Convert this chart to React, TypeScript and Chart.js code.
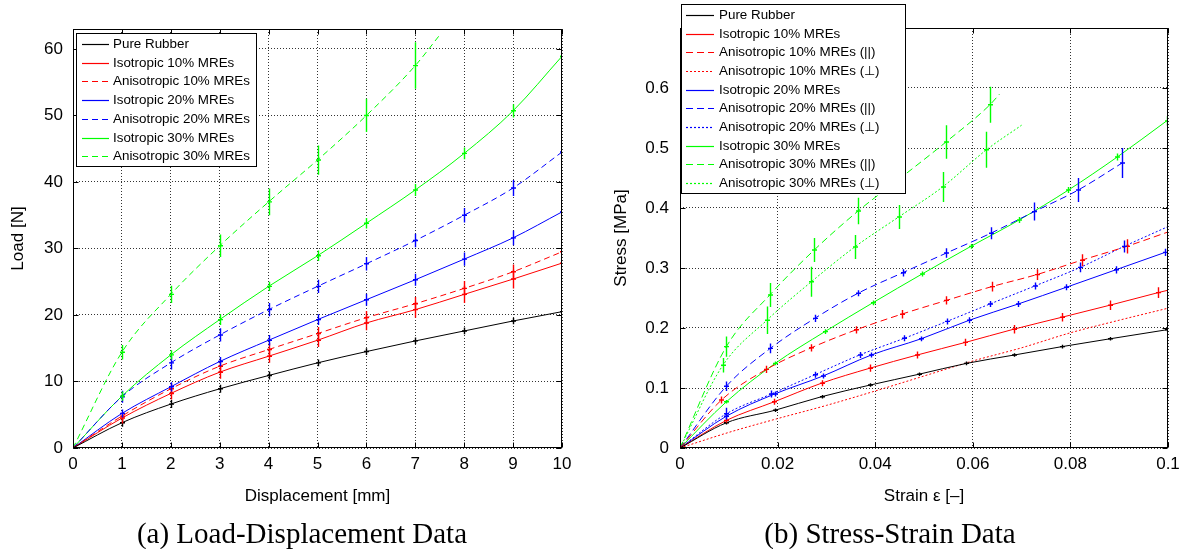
import React, { useEffect, useRef } from 'react';
import { Chart, registerables } from 'chart.js';

Chart.register(...registerables);

// ---------------- (a) Load-Displacement data ----------------
const dispX = [0, 1, 2, 3, 4, 5, 6, 7, 8, 9, 10];
const dispAniso30 = [0, 1, 2, 3, 4, 5, 6, 7, 7.5];

const loadPure = [0, 3.8, 6.6, 8.9, 10.9, 12.8, 14.5, 16.1, 17.6, 19.1, 20.5];
const errPure = [0, 0.6, 0.6, 0.6, 0.6, 0.5, 0.5, 0.5, 0.5, 0.5, 0.5];
const loadIso10 = [0, 4.5, 8.2, 11.4, 13.8, 16.2, 18.8, 20.8, 23.1, 25.4, 27.8];
const errIso10 = [0, 0.8, 0.9, 1.0, 1.0, 1.0, 1.1, 1.2, 1.3, 1.4, 1.5];
const loadAniso10 = [0, 4.8, 8.9, 12.3, 14.8, 17.2, 19.6, 21.7, 24.0, 26.5, 29.5];
const errAniso10 = [0, 0.6, 0.8, 0.9, 1.0, 1.0, 1.0, 1.0, 1.1, 1.1, 1.2];
const loadIso20 = [0, 5.2, 9.2, 13.0, 16.2, 19.3, 22.3, 25.3, 28.4, 31.6, 35.5];
const errIso20 = [0, 0.6, 0.7, 0.7, 0.8, 0.8, 0.9, 0.9, 1.0, 1.1, 1.2];
const loadAniso20 = [0, 7.7, 12.8, 17.0, 20.8, 24.3, 27.7, 31.2, 35.0, 39.1, 44.5];
const errAniso20 = [0, 0.9, 1.0, 1.0, 1.0, 1.0, 1.0, 1.0, 1.1, 1.2, 1.4];
const loadIso30 = [0, 7.8, 14.0, 19.3, 24.3, 28.9, 33.8, 38.8, 44.3, 50.7, 58.9];
const errIso30 = [0, 0.7, 0.7, 0.8, 0.7, 0.8, 0.8, 0.9, 0.9, 1.0, 1.2];
const loadAniso30 = [0, 14.4, 23.1, 30.4, 37.0, 43.3, 50.0, 57.5, 62.1];
const errAniso30 = [0, 1.1, 1.3, 1.7, 2.0, 2.2, 2.5, 3.5, 0];

const dispTicks = [0, 1, 2, 3, 4, 5, 6, 7, 8, 9, 10];
const loadTicks = [0, 10, 20, 30, 40, 50, 60];

// ---------------- (b) Stress-Strain data ----------------
const strainPure = [0, 0.0095, 0.0195, 0.029, 0.039, 0.049, 0.0587, 0.0685, 0.0783, 0.0881, 0.0997];
const stressPure = [0, 0.042, 0.063, 0.0855, 0.105, 0.123, 0.141, 0.155, 0.169, 0.182, 0.197];
const errSPure = [0, 0.003, 0.003, 0.003, 0.003, 0.003, 0.003, 0.003, 0.003, 0.003, 0.003];

const strainIso10 = [0, 0.0095, 0.0193, 0.029, 0.0389, 0.0486, 0.0585, 0.0684, 0.0783, 0.0881, 0.098, 0.1];
const stressIso10 = [0, 0.046, 0.077, 0.108, 0.133, 0.155, 0.176, 0.198, 0.218, 0.238, 0.259, 0.263];
const errSIso10 = [0, 0.004, 0.005, 0.005, 0.006, 0.006, 0.006, 0.007, 0.007, 0.008, 0.009, 0];

const strainAniso10P = [0, 0.0085, 0.0177, 0.0269, 0.0361, 0.0454, 0.0546, 0.0639, 0.0731, 0.0823, 0.0915, 0.1];
const stressAniso10P = [0, 0.08, 0.131, 0.167, 0.197, 0.223, 0.246, 0.269, 0.289, 0.313, 0.336, 0.36];
const errSAniso10P = [0, 0.006, 0.006, 0.006, 0.006, 0.007, 0.007, 0.008, 0.009, 0.01, 0.012, 0];

const strainAniso10N = [0, 0.01, 0.02, 0.03, 0.04, 0.05, 0.06, 0.07, 0.08, 0.09, 0.1];
const stressAniso10N = [0, 0.026, 0.049, 0.071, 0.095, 0.12, 0.145, 0.167, 0.192, 0.213, 0.233];

const strainIso20 = [0, 0.0095, 0.0194, 0.0293, 0.0392, 0.0494, 0.0593, 0.0693, 0.0792, 0.0893, 0.0994];
const stressIso20 = [0, 0.053, 0.09, 0.12, 0.155, 0.182, 0.213, 0.24, 0.268, 0.297, 0.326];
const errSIso20 = [0, 0.004, 0.004, 0.004, 0.004, 0.004, 0.005, 0.005, 0.005, 0.006, 0.006];

const strainAniso20P = [0, 0.0095, 0.0185, 0.0276, 0.0365, 0.0456, 0.0546, 0.0637, 0.0726, 0.0816, 0.0906];
const stressAniso20P = [0, 0.103, 0.166, 0.216, 0.258, 0.292, 0.325, 0.358, 0.394, 0.43, 0.475];
const errSAniso20P = [0, 0.008, 0.008, 0.006, 0.005, 0.006, 0.008, 0.01, 0.015, 0.02, 0.025];

const strainAniso20N = [0, 0.0095, 0.0187, 0.0276, 0.0368, 0.046, 0.0547, 0.0635, 0.0727, 0.082, 0.091, 0.1];
const stressAniso20N = [0, 0.057, 0.09, 0.122, 0.155, 0.183, 0.211, 0.24, 0.27, 0.301, 0.336, 0.369];
const errSAniso20N = [0, 0.01, 0.006, 0.005, 0.005, 0.005, 0.005, 0.005, 0.006, 0.008, 0.01, 0];

const strainIso30 = [0, 0.0095, 0.0195, 0.0297, 0.0395, 0.0496, 0.0596, 0.0695, 0.0796, 0.0896, 0.0997];
const stressIso30 = [0, 0.077, 0.141, 0.194, 0.242, 0.29, 0.336, 0.38, 0.43, 0.485, 0.545];
const errSIso30 = [0, 0.003, 0.003, 0.004, 0.004, 0.004, 0.004, 0.005, 0.005, 0.006, 0.008];

const strainAniso30P = [0, 0.0095, 0.0184, 0.0275, 0.0365, 0.0455, 0.0545, 0.0635, 0.0655];
const stressAniso30P = [0, 0.169, 0.255, 0.33, 0.395, 0.452, 0.51, 0.572, 0.59];
const errSAniso30P = [0, 0.017, 0.02, 0.02, 0.022, 0.025, 0.028, 0.03, 0];

const strainAniso30N = [0, 0.0088, 0.0178, 0.0269, 0.0358, 0.0448, 0.0538, 0.0628, 0.07];
const stressAniso30N = [0, 0.138, 0.213, 0.277, 0.335, 0.385, 0.435, 0.497, 0.538];
const errSAniso30N = [0, 0.012, 0.023, 0.025, 0.02, 0.02, 0.025, 0.03, 0];

const strainTicks = [0, 0.02, 0.04, 0.06, 0.08, 0.1];
const stressTicks = [0, 0.1, 0.2, 0.3, 0.4, 0.5, 0.6];

// ---------------- styling ----------------
const BLACK = '#000000';
const RED = '#ff0000';
const BLUE = '#0000ff';
const GREEN = '#00ff00';
const SANS = "'Liberation Sans', Arial, Helvetica, sans-serif";

type Series = { label: string; x: number[]; y: number[]; err?: number[]; color: string; dash: number[] };

const DASH_A = [6, 4];
const DASH_B = [7, 4];
const DOT = [2, 2];

const seriesA: Series[] = [
  { label: 'Pure Rubber', x: dispX, y: loadPure, err: errPure, color: BLACK, dash: [] },
  { label: 'Isotropic 10% MREs', x: dispX, y: loadIso10, err: errIso10, color: RED, dash: [] },
  { label: 'Anisotropic 10% MREs', x: dispX, y: loadAniso10, err: errAniso10, color: RED, dash: DASH_A },
  { label: 'Isotropic 20% MREs', x: dispX, y: loadIso20, err: errIso20, color: BLUE, dash: [] },
  { label: 'Anisotropic 20% MREs', x: dispX, y: loadAniso20, err: errAniso20, color: BLUE, dash: DASH_A },
  { label: 'Isotropic 30% MREs', x: dispX, y: loadIso30, err: errIso30, color: GREEN, dash: [] },
  { label: 'Anisotropic 30% MREs', x: dispAniso30, y: loadAniso30, err: errAniso30, color: GREEN, dash: DASH_A },
];

const seriesB: Series[] = [
  { label: 'Pure Rubber', x: strainPure, y: stressPure, err: errSPure, color: BLACK, dash: [] },
  { label: 'Isotropic 10% MREs', x: strainIso10, y: stressIso10, err: errSIso10, color: RED, dash: [] },
  { label: 'Anisotropic 10% MREs (||)', x: strainAniso10P, y: stressAniso10P, err: errSAniso10P, color: RED, dash: DASH_B },
  { label: 'Anisotropic 10% MREs (\u22A5)', x: strainAniso10N, y: stressAniso10N, color: RED, dash: DOT },
  { label: 'Isotropic 20% MREs', x: strainIso20, y: stressIso20, err: errSIso20, color: BLUE, dash: [] },
  { label: 'Anisotropic 20% MREs (||)', x: strainAniso20P, y: stressAniso20P, err: errSAniso20P, color: BLUE, dash: DASH_B },
  { label: 'Anisotropic 20% MREs (\u22A5)', x: strainAniso20N, y: stressAniso20N, err: errSAniso20N, color: BLUE, dash: DOT },
  { label: 'Isotropic 30% MREs', x: strainIso30, y: stressIso30, err: errSIso30, color: GREEN, dash: [] },
  { label: 'Anisotropic 30% MREs (||)', x: strainAniso30P, y: stressAniso30P, err: errSAniso30P, color: GREEN, dash: DASH_B },
  { label: 'Anisotropic 30% MREs (\u22A5)', x: strainAniso30N, y: stressAniso30N, err: errSAniso30N, color: GREEN, dash: DOT },
];

// ---------------- plugin: MATLAB-like frame, error bars, legend ----------------
const matlabPlugin = {
  id: 'matlab',
  afterDatasetsDraw(chart: any) {
    const { ctx, chartArea: a, scales } = chart;
    const xs = scales.x;
    const ys = scales.y;
    ctx.save();
    ctx.beginPath();
    ctx.rect(a.left, a.top, a.right - a.left, a.bottom - a.top);
    ctx.clip();
    ctx.setLineDash([]);
    chart.data.datasets.forEach((ds: any) => {
      const errs = ds.errorBars;
      if (!errs) return;
      ctx.strokeStyle = ds.borderColor;
      ctx.lineWidth = 1.4;
      ds.data.forEach((p: any, j: number) => {
        const e = errs[j];
        if (!e) return;
        const px = Math.round(xs.getPixelForValue(p.x)) + 0.5;
        const yc = ys.getPixelForValue(p.y);
        const y1 = ys.getPixelForValue(p.y - e);
        const y2 = ys.getPixelForValue(p.y + e);
        ctx.beginPath();
        ctx.moveTo(px, y1);
        ctx.lineTo(px, y2);
        ctx.moveTo(px - 2.5, yc);
        ctx.lineTo(px + 2.5, yc);
        ctx.stroke();
      });
    });
    ctx.restore();
  },
  afterDraw(chart: any, _args: any, opts: any) {
    const { ctx, chartArea: a, scales } = chart;
    const L = Math.round(a.left) + 0.5;
    const R = Math.round(a.right) - 0.5;
    const T = Math.round(a.top) + 0.5;
    const B = Math.round(a.bottom) - 0.5;
    ctx.save();
    ctx.setLineDash([]);
    ctx.strokeStyle = '#000';
    ctx.lineWidth = 1;
    ctx.beginPath();
    scales.x.ticks.forEach((t: any) => {
      const x = Math.round(scales.x.getPixelForValue(t.value)) + 0.5;
      ctx.moveTo(x, B);
      ctx.lineTo(x, B - 5);
      ctx.moveTo(x, T);
      ctx.lineTo(x, T + 5);
    });
    scales.y.ticks.forEach((t: any) => {
      const y = Math.round(scales.y.getPixelForValue(t.value)) + 0.5;
      ctx.moveTo(L, y);
      ctx.lineTo(L + 5, y);
      ctx.moveTo(R, y);
      ctx.lineTo(R - 5, y);
    });
    ctx.stroke();
    ctx.strokeRect(L, T, R - L, B - T);

    const lg = opts && opts.legend;
    if (lg) {
      ctx.fillStyle = '#fff';
      ctx.fillRect(lg.x, lg.y, lg.w, lg.h);
      ctx.strokeStyle = '#000';
      ctx.lineWidth = 1;
      ctx.strokeRect(lg.x + 0.5, lg.y + 0.5, lg.w, lg.h);
      ctx.font = `${lg.fontSize}px ${SANS}`;
      ctx.textBaseline = 'middle';
      ctx.textAlign = 'left';
      chart.data.datasets.forEach((ds: any, i: number) => {
        const y = Math.round(lg.y + lg.first + i * lg.row) + 0.5;
        ctx.strokeStyle = ds.borderColor;
        ctx.setLineDash(ds.borderDash || []);
        ctx.lineWidth = 1.2;
        ctx.beginPath();
        ctx.moveTo(lg.x0, y);
        ctx.lineTo(lg.x1, y);
        ctx.stroke();
        ctx.fillStyle = '#000';
        ctx.fillText(ds.label, lg.tx, y);
      });
    }
    ctx.restore();
  },
};

type Cfg = {
  series: Series[];
  xMax: number;
  yMax: number;
  xTicks: number[];
  yTicks: number[];
  xTitle: string;
  yTitle: string;
  padTop: number;
  padRight: number;
  padBottom: number;
  yAxisWidth: number;
  xAxisHeight: number;
  yTickPad: number;
  yTitlePad: number;
  legend: any;
};

const fmt = (v: any) => String(+Number(v).toFixed(4));

function makeConfig(c: Cfg): any {
  const font = { family: SANS, size: 17 };
  return {
    type: 'line',
    data: {
      datasets: c.series.map((s) => ({
        label: s.label,
        data: s.x.map((x, i) => ({ x, y: s.y[i] })),
        borderColor: s.color,
        backgroundColor: s.color,
        borderDash: s.dash,
        borderWidth: 1,
        pointRadius: 0,
        pointHoverRadius: 0,
        fill: false,
        cubicInterpolationMode: 'monotone',
        errorBars: s.err,
      })),
    },
    options: {
      animation: false,
      responsive: false,
      events: [],
      layout: { padding: { top: c.padTop, right: c.padRight, bottom: c.padBottom, left: 0 } },
      plugins: {
        legend: { display: false },
        tooltip: { enabled: false },
        matlab: { legend: c.legend },
      },
      scales: {
        x: {
          type: 'linear',
          min: 0,
          max: c.xMax,
          afterBuildTicks: (s: any) => {
            s.ticks = c.xTicks.map((v) => ({ value: v }));
          },
          afterFit: (s: any) => {
            s.height = c.xAxisHeight;
            s.paddingLeft = 0;
            s.paddingRight = 0;
          },
          grid: { color: 'rgba(0,0,0,0.8)', lineWidth: 1, drawTicks: false },
          border: { display: false, dash: [1, 2] },
          ticks: { font, color: '#000', padding: 6, maxRotation: 0, autoSkip: false, callback: fmt },
          title: { display: true, text: c.xTitle, font, color: '#000', padding: { top: 0, bottom: 0 } },
        },
        y: {
          type: 'linear',
          min: 0,
          max: c.yMax,
          afterBuildTicks: (s: any) => {
            s.ticks = c.yTicks.map((v) => ({ value: v }));
          },
          afterFit: (s: any) => {
            s.width = c.yAxisWidth;
            s.paddingTop = 0;
            s.paddingBottom = 0;
          },
          grid: { color: 'rgba(0,0,0,0.8)', lineWidth: 1, drawTicks: false },
          border: { display: false, dash: [1, 2] },
          ticks: { font, color: '#000', padding: c.yTickPad, autoSkip: false, callback: fmt },
          title: { display: true, text: c.yTitle, font, color: '#000', padding: { top: c.yTitlePad, bottom: 0 } },
        },
      },
    },
    plugins: [matlabPlugin],
  };
}

export default function App() {
  const leftRef = useRef<HTMLCanvasElement>(null);
  const rightRef = useRef<HTMLCanvasElement>(null);

  useEffect(() => {
    const c1 = new Chart(
      leftRef.current as HTMLCanvasElement,
      makeConfig({
        series: seriesA,
        xMax: 10,
        yMax: 63,
        xTicks: dispTicks,
        yTicks: loadTicks,
        xTitle: 'Displacement [mm]',
        yTitle: 'Load [N]',
        padTop: 29,
        padRight: 38,
        padBottom: 13.8,
        yAxisWidth: 73,
        xAxisHeight: 58.2,
        yTickPad: 10,
        yTitlePad: 8,
        legend: { x: 76, y: 33, w: 180, h: 133, first: 11, row: 18.7, x0: 82, x1: 109, tx: 113, fontSize: 13.4 },
      })
    );
    const c2 = new Chart(
      rightRef.current as HTMLCanvasElement,
      makeConfig({
        series: seriesB,
        xMax: 0.1,
        yMax: 0.7,
        xTicks: strainTicks,
        yTicks: stressTicks,
        xTitle: 'Strain \u03B5 [\u2013]',
        yTitle: 'Stress [MPa]',
        padTop: 28,
        padRight: 16,
        padBottom: 13.8,
        yAxisWidth: 80,
        xAxisHeight: 58.2,
        yTickPad: 11,
        yTitlePad: 10.8,
        legend: { x: 81, y: 4, w: 224, h: 189, first: 11, row: 18.67, x0: 86, x1: 114, tx: 119, fontSize: 13.4 },
      })
    );
    return () => {
      c1.destroy();
      c2.destroy();
    };
  }, []);

  const captionStyle: React.CSSProperties = {
    position: 'absolute',
    top: 516,
    width: 600,
    textAlign: 'center',
    fontFamily: "'Liberation Serif', 'Times New Roman', serif",
    fontSize: 29,
    lineHeight: '34px',
    color: '#000',
    whiteSpace: 'nowrap',
  };

  return (
    <div style={{ position: 'absolute', left: 0, top: 0, width: 1184, height: 549, background: '#fff', overflow: 'hidden' }}>
      <canvas ref={leftRef} width={600} height={520} style={{ position: 'absolute', left: 0, top: 0, width: 600, height: 520 }} />
      <canvas ref={rightRef} width={584} height={520} style={{ position: 'absolute', left: 600, top: 0, width: 584, height: 520 }} />
      <div style={{ ...captionStyle, left: 2 }}>(a) Load-Displacement Data</div>
      <div style={{ ...captionStyle, left: 590 }}>(b) Stress-Strain Data</div>
    </div>
  );
}
